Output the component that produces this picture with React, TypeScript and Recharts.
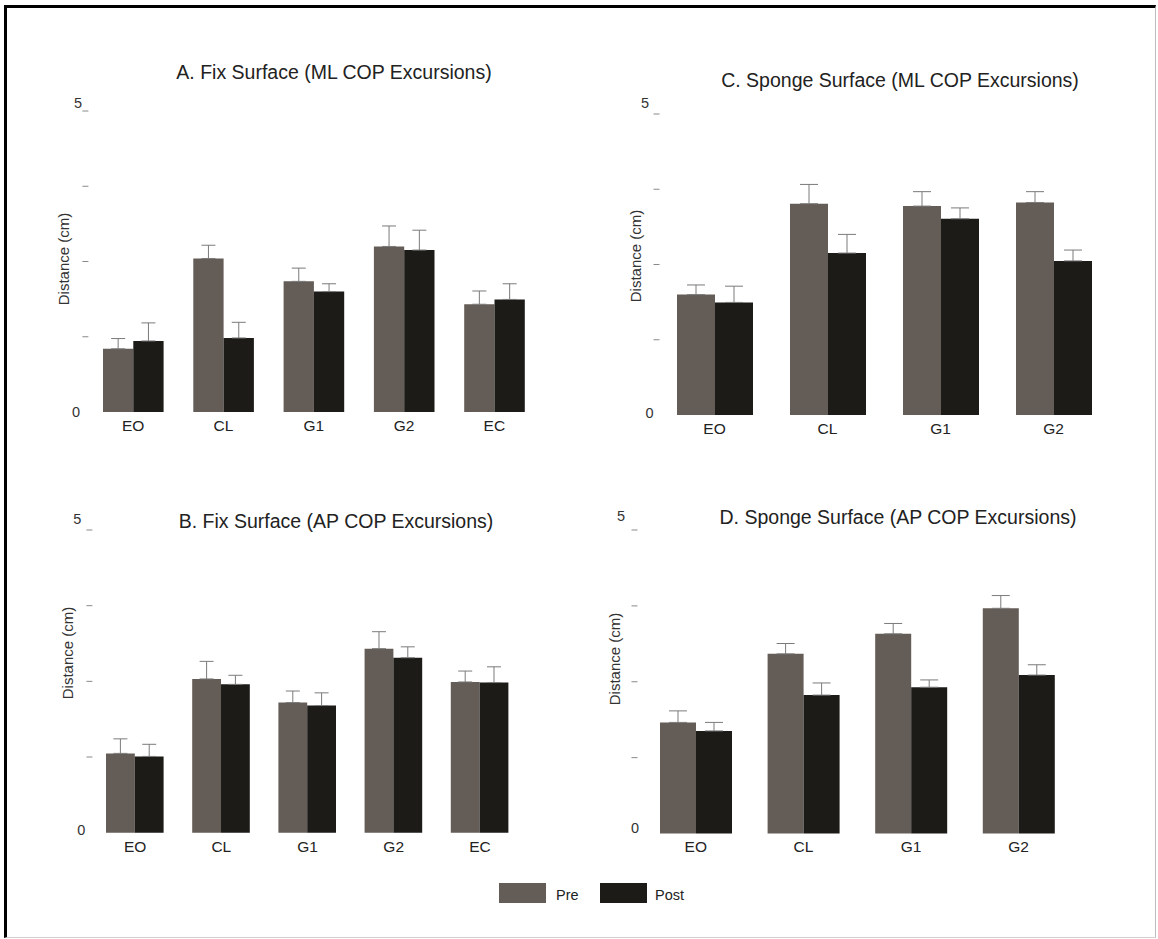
import { BarChart, Bar, XAxis, YAxis, ErrorBar } from "recharts";

// series
const PHASES = ["Pre", "Post"];
const PHASE_COLORS = ["#645c57", "#1c1b18"];

const FIX_CATS = ["EO", "CL", "G1", "G2", "EC"];
const SPONGE_CATS = ["EO", "CL", "G1", "G2"];
const Y_TICKS = [0, 1.25, 2.5, 3.75, 5];

// A. Fix Surface (ML)
const A_PRE = [1.05, 2.55, 2.17, 2.75, 1.79];
const A_PRE_ERR = [0.17, 0.22, 0.22, 0.34, 0.22];
const A_POST = [1.18, 1.23, 2.0, 2.69, 1.87];
const A_POST_ERR = [0.3, 0.26, 0.13, 0.33, 0.26];

// B. Fix Surface (AP)
const B_PRE = [1.31, 2.54, 2.15, 3.04, 2.49];
const B_PRE_ERR = [0.24, 0.29, 0.19, 0.28, 0.18];
const B_POST = [1.26, 2.45, 2.1, 2.89, 2.48];
const B_POST_ERR = [0.2, 0.15, 0.21, 0.18, 0.26];

// C. Sponge Surface (ML)
const C_PRE = [2.0, 3.51, 3.47, 3.53];
const C_PRE_ERR = [0.16, 0.32, 0.24, 0.18];
const C_POST = [1.87, 2.69, 3.26, 2.56];
const C_POST_ERR = [0.27, 0.31, 0.18, 0.18];

// D. Sponge Surface (AP)
const D_PRE = [1.83, 2.96, 3.29, 3.71];
const D_PRE_ERR = [0.19, 0.17, 0.17, 0.21];
const D_POST = [1.69, 2.28, 2.41, 2.61];
const D_POST_ERR = [0.14, 0.2, 0.12, 0.17];

const FONT = "'Liberation Sans', Arial, sans-serif";
const TOP_PAD = 30;

function makeRows(cats: string[], pre: number[], preErr: number[], post: number[], postErr: number[]) {
  return cats.map((cat, i) => ({
    cat,
    pre: pre[i],
    post: post[i],
    preErr: [0, preErr[i]],
    postErr: [0, postErr[i]],
  }));
}

type Layout = {
  left: number; top: number; width: number; height: number;
  barSize: number; capW: number; tickDx: number;
  zero: [number, number]; five: [number, number];
  title: [number, number]; ylabel: [number, number];
};

function YTick(props: any) {
  const { x, y, payload, lay } = props;
  const v = payload.value;
  return (
    <g>
      {v !== 0 && (
        <line x1={x + lay.tickDx - 6} x2={x + lay.tickDx} y1={y} y2={y} stroke="#8a8a8a" strokeWidth={1} />
      )}
      {v === 0 && (
        <text x={x + lay.zero[0]} y={y + lay.zero[1]} textAnchor="middle" dominantBaseline="central"
          fontSize={14.5} fill="#333" fontFamily={FONT}>0</text>
      )}
      {v === 5 && (
        <text x={x + lay.five[0]} y={y + lay.five[1]} textAnchor="middle" dominantBaseline="central"
          fontSize={14.5} fill="#333" fontFamily={FONT}>5</text>
      )}
    </g>
  );
}

function Panel({ title, rows, lay }: { title: string; rows: any[]; lay: Layout }) {
  return (
    <>
      <div style={{
        position: "absolute", left: lay.title[0], top: lay.title[1],
        transform: "translate(-50%, -50%)", whiteSpace: "nowrap",
        fontSize: 19.5, color: "#222", fontFamily: FONT,
      }}>{title}</div>
      <div style={{
        position: "absolute", left: lay.ylabel[0], top: lay.ylabel[1],
        transform: "translate(-50%, -50%) rotate(-90deg)", whiteSpace: "nowrap",
        fontSize: 15, color: "#333", fontFamily: FONT,
      }}>Distance (cm)</div>
      <div style={{ position: "absolute", left: lay.left - 60, top: lay.top - TOP_PAD }}>
        <BarChart
          width={lay.width + 70}
          height={lay.height + TOP_PAD + 40}
          data={rows}
          margin={{ top: TOP_PAD, right: 10, bottom: 0, left: 0 }}
          barGap={0}
          barSize={lay.barSize}
        >
          <XAxis
            dataKey="cat"
            height={40}
            axisLine={false}
            tickLine={false}
            tickSize={0}
            tickMargin={8}
            interval={0}
            tick={{ fontSize: 15.5, fill: "#222", fontFamily: FONT }}
          />
          <YAxis
            width={60}
            domain={[0, 5]}
            ticks={Y_TICKS}
            axisLine={false}
            tickLine={false}
            tickSize={0}
            tickMargin={0}
            interval={0}
            tick={(p: any) => <YTick {...p} lay={lay} />}
          />
          <Bar dataKey="pre" name={PHASES[0]} fill={PHASE_COLORS[0]} isAnimationActive={false}>
            <ErrorBar dataKey="preErr" width={lay.capW} stroke="#7a7a7a" strokeWidth={1} direction="y" />
          </Bar>
          <Bar dataKey="post" name={PHASES[1]} fill={PHASE_COLORS[1]} isAnimationActive={false}>
            <ErrorBar dataKey="postErr" width={lay.capW} stroke="#7a7a7a" strokeWidth={1} direction="y" />
          </Bar>
        </BarChart>
      </div>
    </>
  );
}

const LAY_A: Layout = {
  left: 87.6, top: 111, width: 451.5, height: 301, barSize: 30.3, capW: 7, tickDx: 0.4,
  zero: [-12, 0], five: [-10, -8], title: [334, 72], ylabel: [62.7, 259],
};
const LAY_B: Layout = {
  left: 91.6, top: 530, width: 431, height: 302.7, barSize: 28.8, capW: 7, tickDx: 0.4,
  zero: [-10.6, -3], five: [-14.6, -11], title: [336, 521], ylabel: [66.5, 653],
};
const LAY_C: Layout = {
  left: 657.5, top: 114, width: 452, height: 301, barSize: 38, capW: 9, tickDx: 1.5,
  zero: [-8.5, -2], five: [-13, -11], title: [900, 80], ylabel: [635, 256],
};
const LAY_D: Layout = {
  left: 641.7, top: 530, width: 430.4, height: 303.5, barSize: 36, capW: 9, tickDx: -4.5,
  zero: [-7, -5.5], five: [-21, -14], title: [898, 517], ylabel: [614, 659],
};

export default function App() {
  const legendItems = [
    { name: PHASES[0], color: PHASE_COLORS[0], box: 499, text: 556 },
    { name: PHASES[1], color: PHASE_COLORS[1], box: 600, text: 655 },
  ];
  return (
    <div style={{
      position: "absolute", left: 0, top: 0, width: 1158, height: 939,
      background: "#fff", overflow: "hidden", fontFamily: FONT,
    }}>
      <div style={{
        position: "absolute", left: 4, top: 5, width: 1152, height: 933, boxSizing: "border-box",
        borderTop: "3px solid #000", borderLeft: "3px solid #000",
        borderRight: "1px solid #bdbdbd", borderBottom: "1px solid #d0d0d0",
      }} />
      <Panel title="A. Fix Surface (ML COP Excursions)"
        rows={makeRows(FIX_CATS, A_PRE, A_PRE_ERR, A_POST, A_POST_ERR)} lay={LAY_A} />
      <Panel title="C. Sponge Surface (ML COP Excursions)"
        rows={makeRows(SPONGE_CATS, C_PRE, C_PRE_ERR, C_POST, C_POST_ERR)} lay={LAY_C} />
      <Panel title="B. Fix Surface (AP COP Excursions)"
        rows={makeRows(FIX_CATS, B_PRE, B_PRE_ERR, B_POST, B_POST_ERR)} lay={LAY_B} />
      <Panel title="D. Sponge Surface (AP COP Excursions)"
        rows={makeRows(SPONGE_CATS, D_PRE, D_PRE_ERR, D_POST, D_POST_ERR)} lay={LAY_D} />
      {legendItems.map((it) => (
        <div key={it.name}>
          <div style={{
            position: "absolute", left: it.box, top: 883, width: 47, height: 20, background: it.color,
          }} />
          <div style={{
            position: "absolute", left: it.text, top: 895, transform: "translateY(-50%)",
            fontSize: 14.5, color: "#222", fontFamily: FONT,
          }}>{it.name}</div>
        </div>
      ))}
    </div>
  );
}
